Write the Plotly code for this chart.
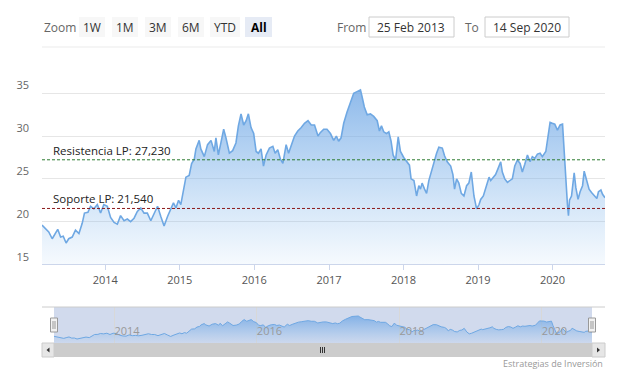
import plotly.graph_objects as go

# ---------------- data ----------------
dates = [
    "2013-02-25", "2013-03-14", "2013-03-30", "2013-04-16", "2013-05-02", "2013-05-13", "2013-05-27",
    "2013-06-09", "2013-06-23", "2013-07-06", "2013-07-23", "2013-08-08", "2013-08-25", "2013-09-10",
    "2013-09-21", "2013-10-08", "2013-10-21", "2013-11-06", "2013-11-23", "2013-12-09", "2013-12-25",
    "2014-01-11", "2014-01-27", "2014-02-13", "2014-03-01", "2014-03-17", "2014-04-03", "2014-04-19",
    "2014-05-05", "2014-05-22", "2014-06-07", "2014-06-24", "2014-07-10", "2014-07-26", "2014-08-12",
    "2014-08-28", "2014-09-14", "2014-09-30", "2014-10-16", "2014-11-02", "2014-11-18", "2014-12-01",
    "2014-12-13", "2014-12-26",
    "2015-01-06", "2015-01-23", "2015-01-31", "2015-02-16", "2015-02-28", "2015-03-13", "2015-03-21",
    "2015-04-06", "2015-04-14", "2015-05-01", "2015-05-17", "2015-06-03", "2015-06-19", "2015-06-27",
    "2015-07-09", "2015-07-22", "2015-08-04", "2015-08-15", "2015-09-01", "2015-09-17", "2015-10-03",
    "2015-10-15", "2015-10-28", "2015-11-10", "2015-11-22", "2015-12-03", "2015-12-16", "2015-12-29",
    "2016-01-10", "2016-01-21", "2016-02-03", "2016-02-15", "2016-02-28", "2016-03-15", "2016-04-01",
    "2016-04-12", "2016-04-25", "2016-05-08", "2016-05-20", "2016-06-05", "2016-06-17", "2016-06-30",
    "2016-07-16", "2016-08-01", "2016-08-18", "2016-09-03", "2016-09-20", "2016-10-06", "2016-10-22",
    "2016-11-08", "2016-11-19", "2016-12-06", "2016-12-22",
    "2017-01-08", "2017-01-24", "2017-02-06", "2017-02-17", "2017-03-01", "2017-03-14", "2017-03-30",
    "2017-04-16", "2017-05-02", "2017-05-18", "2017-06-04", "2017-06-12", "2017-06-23", "2017-07-07",
    "2017-07-23", "2017-08-08", "2017-08-25", "2017-09-05", "2017-09-15", "2017-09-26", "2017-10-09",
    "2017-10-21", "2017-11-01", "2017-11-11", "2017-11-23", "2017-12-06", "2017-12-17",
    "2018-01-02", "2018-01-19", "2018-01-30", "2018-02-07", "2018-02-21", "2018-03-06", "2018-03-17",
    "2018-03-25", "2018-04-02", "2018-04-14", "2018-04-24", "2018-05-05", "2018-05-18", "2018-05-30",
    "2018-06-12", "2018-06-23", "2018-07-10", "2018-07-21", "2018-08-03", "2018-08-20", "2018-08-31",
    "2018-09-08", "2018-09-18", "2018-09-29", "2018-10-11", "2018-10-24", "2018-11-06", "2018-11-17",
    "2018-11-29", "2018-12-12", "2018-12-25",
    "2019-01-06", "2019-01-14", "2019-01-27", "2019-02-09", "2019-02-24", "2019-03-04", "2019-03-17",
    "2019-03-28", "2019-04-09", "2019-04-22", "2019-04-30", "2019-05-12", "2019-05-25", "2019-06-07",
    "2019-06-18", "2019-06-30", "2019-07-13", "2019-07-26", "2019-08-06", "2019-08-18", "2019-08-31",
    "2019-09-13", "2019-09-24", "2019-10-06", "2019-10-19", "2019-11-01", "2019-11-12", "2019-11-29",
    "2019-12-10", "2019-12-20", "2019-12-31",
    "2020-01-12", "2020-01-25", "2020-02-07", "2020-02-19", "2020-02-27", "2020-03-06", "2020-03-14",
    "2020-03-19", "2020-03-24", "2020-04-03", "2020-04-16", "2020-04-24", "2020-05-05", "2020-05-15",
    "2020-05-27", "2020-06-04", "2020-06-17", "2020-06-28", "2020-07-10", "2020-07-23", "2020-08-05",
    "2020-08-13", "2020-08-25", "2020-09-02", "2020-09-14",
]

price = [
    19.6, 19.2, 18.8, 18.0, 18.7, 19.1, 18.2,
    18.3, 17.5, 18.0, 18.2, 19.0, 18.6, 19.8,
    21.0, 21.1, 21.8, 21.5, 22.0, 21.0, 22.0,
    21.8, 20.5, 19.9, 19.7, 20.7, 20.1, 20.3,
    20.0, 20.4, 21.2, 21.6, 21.0, 21.0, 20.1,
    21.0, 21.8, 20.6, 19.5, 20.6, 21.5, 22.2,
    21.6, 22.5,
    22.0, 24.0, 25.2, 25.4, 26.8, 27.3, 28.5,
    29.5, 28.5, 27.6, 29.0, 29.5, 28.2, 29.8,
    27.8, 29.3, 30.8, 29.8, 28.0, 28.3, 29.2,
    31.2, 32.6, 31.3, 31.8, 32.6, 31.0, 30.3,
    28.2, 28.0, 28.5, 26.5, 27.8, 28.6, 28.8,
    28.0, 28.4, 27.3, 26.8, 29.0, 28.0, 28.9,
    30.0, 30.6, 31.0, 31.5, 31.8, 31.3, 31.3,
    30.0, 30.4, 30.8, 30.8,
    30.3, 29.5, 30.0, 29.4, 29.8, 31.5, 32.8,
    34.0, 35.0, 35.2, 35.4, 34.6, 33.4, 32.5,
    32.6, 32.3, 31.8, 30.6, 31.2, 30.5, 30.3,
    30.5, 29.4, 27.8, 27.2, 29.9, 28.2,
    27.5, 27.0, 26.6, 25.0, 24.8, 23.0, 24.2,
    23.8, 24.5, 23.8, 23.3, 24.8, 26.0, 26.8,
    28.0, 28.7, 28.6, 27.7, 27.0, 26.5, 25.5,
    23.8, 25.0, 24.5, 23.3, 23.0, 24.2, 24.5,
    25.8, 23.0, 21.5,
    22.0, 22.6, 23.0, 24.0, 25.2, 24.8, 25.2,
    25.5, 26.2, 27.0, 25.8, 25.0, 24.6, 24.8,
    25.0, 26.5, 27.2, 26.8, 25.8, 26.7, 27.8,
    27.0, 27.6, 27.4, 27.9, 28.0, 27.6, 28.2,
    30.0, 31.6, 31.5,
    31.4, 30.7, 31.3, 31.4, 28.0, 25.5, 22.0,
    20.7, 22.5, 23.0, 25.7, 24.0, 22.6, 23.5,
    24.2, 25.9, 24.6, 23.8, 23.4, 23.0, 22.7,
    23.5, 23.7, 23.2, 22.8,
]

resistencia = 27.23
soporte = 21.54
y_ticks = [15, 20, 25, 30, 35]
range_buttons = ["1W", "1M", "3M", "6M", "YTD", "All"]
date_from_label = "25 Feb 2013"
date_to_label = "14 Sep 2020"

# ---------------- layout helpers ----------------
W, H = 621, 380
FONT = "Open Sans, Noto Sans, Arial, sans-serif"


def px(x):
    return x / W


def py(y):
    return 1 - y / H


fig = go.Figure()

# main area series
fig.add_trace(go.Scatter(
    x=dates, y=price, mode="lines", fill="tozeroy",
    line=dict(color="#6fa8e3", width=1.6),
    fillgradient=dict(type="vertical", start=15, stop=37.5,
                      colorscale=[[0, "rgba(124,181,236,0.07)"], [1, "rgba(110,165,228,0.85)"]]),
    hoverinfo="skip", showlegend=False, xaxis="x", yaxis="y",
))

# navigator series
fig.add_trace(go.Scatter(
    x=dates, y=price, mode="lines", fill="tozeroy",
    line=dict(color="#6fa8e3", width=1),
    fillgradient=dict(type="vertical", start=14.4, stop=36,
                      colorscale=[[0, "rgba(124,181,236,0.05)"], [1, "rgba(110,165,228,0.8)"]]),
    hoverinfo="skip", showlegend=False, xaxis="x2", yaxis="y2",
))

shapes = []
annotations = []

# support / resistance lines
shapes.append(dict(type="line", xref="x domain", yref="y", x0=0, x1=1, y0=resistencia, y1=resistencia,
                   line=dict(color="#2e7d32", width=1, dash="3px,2px")))
shapes.append(dict(type="line", xref="x domain", yref="y", x0=0, x1=1, y0=soporte, y1=soporte,
                   line=dict(color="#8b1a1a", width=1, dash="3px,2px")))
annotations.append(dict(x=px(51), xref="paper", y=resistencia, yref="y", text="Resistencia LP: 27,230",
                        showarrow=False, xanchor="left", yanchor="bottom", yshift=0,
                        font=dict(family=FONT, size=11.5, color="#222")))
annotations.append(dict(x=px(51), xref="paper", y=soporte, yref="y", text="Soporte LP: 21,540",
                        showarrow=False, xanchor="left", yanchor="bottom", yshift=0,
                        font=dict(family=FONT, size=11.5, color="#222")))

# separator line under range selector
shapes.append(dict(type="line", xref="paper", yref="paper", x0=px(42), x1=px(605), y0=py(47), y1=py(47),
                   line=dict(color="#ebebeb", width=1)))

# range selector
annotations.append(dict(x=px(42), y=py(27), xref="paper", yref="paper", text="Zoom", showarrow=False,
                        xanchor="left", yanchor="middle", font=dict(family=FONT, size=12, color="#666")))
btn_x = [(79, 105), (112, 138), (145, 171), (178, 204), (210, 240), (245, 272)]
for label, (x0, x1) in zip(range_buttons, btn_x):
    sel = label == "All"
    shapes.append(dict(type="rect", xref="paper", yref="paper", x0=px(x0), x1=px(x1), y0=py(37), y1=py(17),
                       fillcolor="#e6ebf5" if sel else "#f7f7f7", line=dict(width=0), layer="below"))
    annotations.append(dict(x=px((x0 + x1) / 2), y=py(27), xref="paper", yref="paper",
                            text=f"<b>{label}</b>" if sel else label, showarrow=False,
                            xanchor="center", yanchor="middle",
                            font=dict(family=FONT, size=12, color="#000" if sel else "#333")))

annotations.append(dict(x=px(335), y=py(27), xref="paper", yref="paper", text="From", showarrow=False,
                        xanchor="left", yanchor="middle", font=dict(family=FONT, size=12, color="#666")))
annotations.append(dict(x=px(463), y=py(27), xref="paper", yref="paper", text="To", showarrow=False,
                        xanchor="left", yanchor="middle", font=dict(family=FONT, size=12, color="#666")))
for (x0, x1), txt in [((369, 454), date_from_label), ((485, 569), date_to_label)]:
    shapes.append(dict(type="rect", xref="paper", yref="paper", x0=px(x0), x1=px(x1), y0=py(37), y1=py(17),
                       fillcolor="white", line=dict(color="#cccccc", width=1)))
    annotations.append(dict(x=px((x0 + x1) / 2), y=py(27), xref="paper", yref="paper", text=txt,
                            showarrow=False, xanchor="center", yanchor="middle",
                            font=dict(family=FONT, size=12, color="#333")))

# navigator decorations
nav_top, nav_bot = 307, 343
shapes.append(dict(type="rect", xref="paper", yref="paper", x0=px(54), x1=px(592), y0=py(nav_bot), y1=py(nav_top),
                   fillcolor="rgba(102,133,194,0.3)", line=dict(width=0), layer="below"))
shapes.append(dict(type="line", xref="paper", yref="paper", x0=px(42), x1=px(605), y0=py(nav_top), y1=py(nav_top),
                   line=dict(color="#cccccc", width=1)))
for hx in (54, 592):
    shapes.append(dict(type="rect", xref="paper", yref="paper", x0=px(hx - 3.5), x1=px(hx + 3.5),
                       y0=py(332), y1=py(318), fillcolor="#f2f2f2", line=dict(color="#999999", width=1)))
    for lx in (hx - 1, hx + 1):
        shapes.append(dict(type="line", xref="paper", yref="paper", x0=px(lx), x1=px(lx),
                           y0=py(329), y1=py(321), line=dict(color="#999999", width=1)))

# scrollbar
sb_top, sb_bot = 343, 357
shapes.append(dict(type="rect", xref="paper", yref="paper", x0=px(42), x1=px(605), y0=py(sb_bot), y1=py(sb_top),
                   fillcolor="#f2f2f2", line=dict(width=0)))
shapes.append(dict(type="rect", xref="paper", yref="paper", x0=px(54), x1=px(592), y0=py(sb_bot), y1=py(sb_top),
                   fillcolor="#cccccc", line=dict(width=0)))
for x0, x1 in ((42, 54), (592, 605)):
    shapes.append(dict(type="rect", xref="paper", yref="paper", x0=px(x0), x1=px(x1), y0=py(sb_bot), y1=py(sb_top),
                       fillcolor="#e6e6e6", line=dict(color="#cccccc", width=1)))
shapes.append(dict(type="path", xref="paper", yref="paper",
                   path=f"M {px(49.5)} {py(347.5)} L {px(46.5)} {py(350)} L {px(49.5)} {py(352.5)} Z",
                   fillcolor="#333", line=dict(width=0)))
shapes.append(dict(type="path", xref="paper", yref="paper",
                   path=f"M {px(597)} {py(347.5)} L {px(600)} {py(350)} L {px(597)} {py(352.5)} Z",
                   fillcolor="#333", line=dict(width=0)))
for gx in (320.5, 322.5, 324.5):
    shapes.append(dict(type="line", xref="paper", yref="paper", x0=px(gx), x1=px(gx), y0=py(353), y1=py(347),
                       line=dict(color="#333", width=1)))

# credits
annotations.append(dict(x=px(605), y=py(363), xref="paper", yref="paper", text="Estrategias de Inversión",
                        showarrow=False, xanchor="right", yanchor="middle",
                        font=dict(family=FONT, size=9, color="#999")))

main_top, main_bot = 70, 264.4
ymax = 35 + (93.3 - main_top) / 8.54

fig.update_layout(
    width=W, height=H, autosize=False,
    margin=dict(l=0, r=0, t=0, b=0),
    paper_bgcolor="white", plot_bgcolor="white",
    font=dict(family=FONT, size=11, color="#666"),
    showlegend=False,
    xaxis=dict(domain=[px(42), px(605)], range=[dates[0], dates[-1]], type="date",
               anchor="y", showgrid=False, zeroline=False,
               tick0="2014-01-01", dtick="M12", tickformat="%Y",
               ticks="outside", ticklen=5, tickcolor="#ccd6eb",
               showline=True, linecolor="#ccd6eb", linewidth=1,
               tickfont=dict(family=FONT, size=11, color="#555")),
    yaxis=dict(domain=[py(main_bot), py(main_top)], range=[15, ymax], anchor="x",
               tickvals=y_ticks, showgrid=True, gridcolor="#e6e6e6", zeroline=False,
               ticks="", ticklabelposition="outside top", ticklabelstandoff=12,
               tickfont=dict(family=FONT, size=11, color="#666")),
    xaxis2=dict(domain=[px(54), px(592)], range=[dates[0], dates[-1]], type="date",
                anchor="y2", showgrid=True, gridcolor="#d8d8d8", zeroline=False,
                tick0="2014-01-01", dtick="M24", tickformat="%Y",
                ticks="", ticklabelposition="inside right",
                tickfont=dict(family=FONT, size=11, color="#999")),
    yaxis2=dict(domain=[py(nav_bot), py(nav_top)], range=[14.4, 42.4], anchor="x2",
                showgrid=False, zeroline=False, showticklabels=False, ticks=""),
    shapes=shapes, annotations=annotations,
)

fig.write_html("out.html", config={"displayModeBar": False},
               post_script="document.body.style.margin='0px';document.body.style.overflow='hidden';")
